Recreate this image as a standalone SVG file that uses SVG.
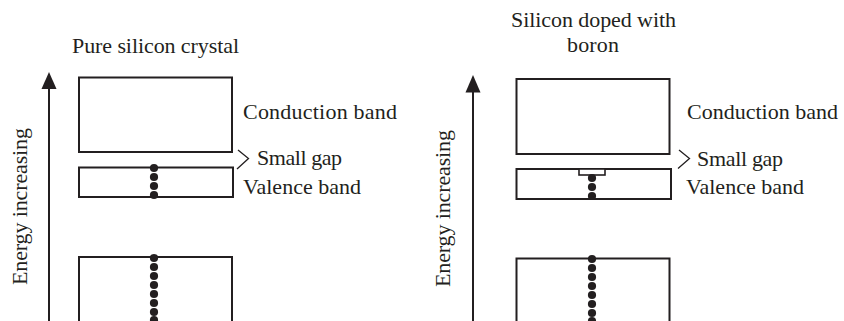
<svg xmlns="http://www.w3.org/2000/svg" width="844" height="321" viewBox="0 0 844 321">
<style>
text{font-family:"Liberation Serif",serif;font-size:22px;fill:#231f20}
.b{fill:none;stroke:#231f20;stroke-width:2}
.s{fill:none;stroke:#231f20;stroke-width:1.3}
.d{fill:#231f20}
</style>
<defs><circle id="dot" r="4.1" class="d"/></defs>
<rect width="844" height="321" fill="#fff"/>
<g id="connectors">
<path class="b" d="M49 85V321"/><path class="d" d="M49 72L56.500 89H41.500Z"/>
<path class="b" d="M473 88V321"/><path class="d" d="M473 75L480.500 92.500H465.500Z"/>
<path class="s" d="M238 150L248.500 158.500L237 169"/>
<path class="s" d="M679 150L689.500 158.500L678 168.500"/>
</g>
<g id="left-title"><text x="72" y="53" textLength="167">Pure silicon crystal</text></g>
<g id="left-axis-label"><text transform="translate(27,285) rotate(-90)" textLength="157">Energy increasing</text></g>
<g id="left-conduction"><rect class="b" x="79" y="77.500" width="153" height="74.500"/><text x="243" y="119" textLength="154">Conduction band</text></g>
<g id="left-gap"><text x="257" y="165" textLength="85">Small gap</text></g>
<g id="left-valence"><rect class="b" x="79" y="167.500" width="154" height="29.500"/>
<use href="#dot" x="154" y="168"/><use href="#dot" x="154" y="177"/><use href="#dot" x="154" y="186"/><use href="#dot" x="154" y="195"/>
<text x="243" y="194" textLength="118">Valence band</text></g>
<g id="left-lower"><path class="b" d="M79 321V257H232V321"/>
<use href="#dot" x="154" y="258"/><use href="#dot" x="154" y="267"/><use href="#dot" x="154" y="276"/><use href="#dot" x="154" y="285"/><use href="#dot" x="154" y="294"/><use href="#dot" x="154" y="303"/><use href="#dot" x="154" y="312"/><use href="#dot" x="154" y="320"/></g>
<g id="right-title"><text x="511" y="27" textLength="165">Silicon doped with</text><text x="567" y="52" textLength="52">boron</text></g>
<g id="right-axis-label"><text transform="translate(449.500,287) rotate(-90)" textLength="157">Energy increasing</text></g>
<g id="right-conduction"><rect class="b" x="516.500" y="79" width="153" height="75"/><text x="687" y="119" textLength="151">Conduction band</text></g>
<g id="right-gap"><text x="697" y="166" textLength="86">Small gap</text></g>
<g id="right-valence"><rect class="b" x="516.500" y="169" width="154.500" height="30"/><rect x="579" y="169" width="26" height="6" fill="#fff" stroke="#231f20" stroke-width="1.600"/>
<use href="#dot" x="592" y="178"/><use href="#dot" x="592" y="187"/><use href="#dot" x="592" y="196"/>
<text x="686" y="194" textLength="118">Valence band</text></g>
<g id="right-lower"><path class="b" d="M516.500 321V258.500H669.500V321"/>
<use href="#dot" x="592" y="259"/><use href="#dot" x="592" y="268"/><use href="#dot" x="592" y="277"/><use href="#dot" x="592" y="286"/><use href="#dot" x="592" y="295"/><use href="#dot" x="592" y="304"/><use href="#dot" x="592" y="313"/><use href="#dot" x="592" y="321"/></g>
</svg>
